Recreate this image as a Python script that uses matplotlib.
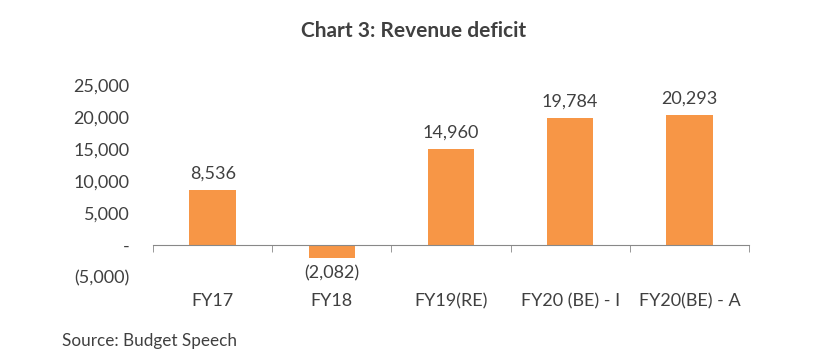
import matplotlib.pyplot as plt

categories = ["FY17", "FY18", "FY19(RE)", "FY20 (BE) - I", "FY20(BE) - A"]
values = [8536, -2082, 14960, 19784, 20293]
y_ticks = [-5000, 0, 5000, 10000, 15000, 20000, 25000]
y_labels = ["(5,000)", "-", "5,000", "10,000", "15,000", "20,000", "25,000"]

plt.rcParams['font.family'] = ['Lato', 'DejaVu Sans']
txt = '#404040'

fig = plt.figure(figsize=(8.23, 3.6), dpi=100)
ax = fig.add_axes([0.186, 0.231, 0.724, 0.533])

x = list(range(len(categories)))
ax.bar(x, values, width=0.39, color='#F79646', zorder=2)

# data labels
for xi, v in zip(x, values):
    s = f"{abs(v):,}"
    if v < 0:
        ax.annotate(f"({s})", (xi, v), xytext=(0, -5), textcoords='offset points',
                    ha='center', va='top', fontsize=13, color=txt)
    else:
        ax.annotate(s, (xi, v), xytext=(0, 6), textcoords='offset points',
                    ha='center', va='bottom', fontsize=13, color=txt)

ax.set_xlim(-0.5, len(categories) - 0.5)
ax.set_ylim(-5000, 25000)
ax.set_yticks(y_ticks)
ax.set_yticklabels(y_labels, fontsize=13, color=txt)
ax.tick_params(axis='y', length=0, pad=17)

for side in ['top', 'right', 'left']:
    ax.spines[side].set_visible(False)
ax.spines['bottom'].set_position(('data', 0))
ax.spines['bottom'].set_color('#888888')

ax.set_xticks(x)
ax.set_xticklabels(categories, fontsize=13, color=txt)
ax.tick_params(axis='x', which='major', length=0, pad=35)
ax.set_xticks([i - 0.5 for i in range(len(categories) + 1)], minor=True)
ax.tick_params(axis='x', which='minor', length=5, color='#888888', direction='out')

fig.text(0.502, 0.915, "Chart 3: Revenue deficit", ha='center', va='center',
         fontsize=15, fontweight='bold', color=txt)
fig.text(0.075, 0.053, "Source: Budget Speech", ha='left', va='center',
         fontsize=12.3, color=txt)

plt.savefig('out.png', dpi=100)
